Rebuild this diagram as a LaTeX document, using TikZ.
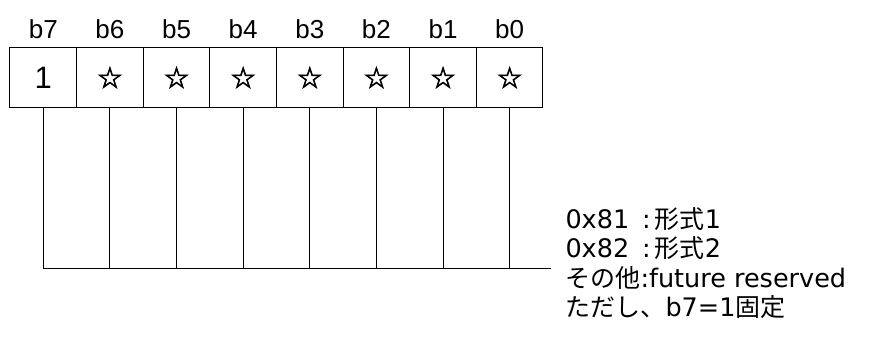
\documentclass[tikz,border=0pt]{standalone}
\usepackage{fontspec}
\setmainfont{Liberation Sans}
\newfontfamily\jpfont{Noto Sans CJK JP}
\newfontfamily\latfont[Scale=1.02]{DejaVu Sans}
\newfontfamily\symfont[FakeBold=2.5]{DejaVu Sans}
\usetikzlibrary{positioning}

\begin{document}
\begin{tikzpicture}[node distance=66.625pt, line width=1pt,
  bit node/.style={draw, minimum width=66.625pt, minimum height=59pt, inner sep=0pt},
  star/.style={font=\symfont\fontsize{29}{29}\selectfont}]
  \tikzstyle{every node}=[font=\fontsize{26}{26}\selectfont]
  \useasboundingbox (0,0) rectangle (869pt,338pt);

  % register cells
  \node[bit node, font=\fontsize{31}{31}\selectfont] (7) at (43.3pt,260.5pt) {1};
  \node[bit node, star] (6) [right of=7] {☆};
  \node[bit node, star] (5) [right of=6] {☆};
  \node[bit node, star] (4) [right of=5] {☆};
  \node[bit node, star] (3) [right of=4] {☆};
  \node[bit node, star] (2) [right of=3] {☆};
  \node[bit node, star] (1) [right of=2] {☆};
  \node[bit node, star] (0) [right of=1] {☆};

  % bit numbers
  \foreach \b in {7,...,0}
    \node (b\b) [above of=\b, node distance=48.5pt] {b\b};

  % collecting line
  \coordinate (end) at (551pt,70pt);
  \foreach \b in {7,...,0}
    \draw (\b.south) -- (\b.south |- end);
  \draw (7.south |- end) -- (end);

  \node[font=\jpfont\fontsize{25}{29.5}\selectfont, align=left, anchor=north west, inner sep=0pt]
    (note) at (565pt,131pt)
    {{\latfont 0x81\enspace:\,}形式{\latfont 1}\\
     {\latfont 0x82\enspace:\,}形式{\latfont 2}\\
     その他{\latfont :future reserved}\\
     ただし、{\latfont b7=1}固定};
\end{tikzpicture}
\end{document}
